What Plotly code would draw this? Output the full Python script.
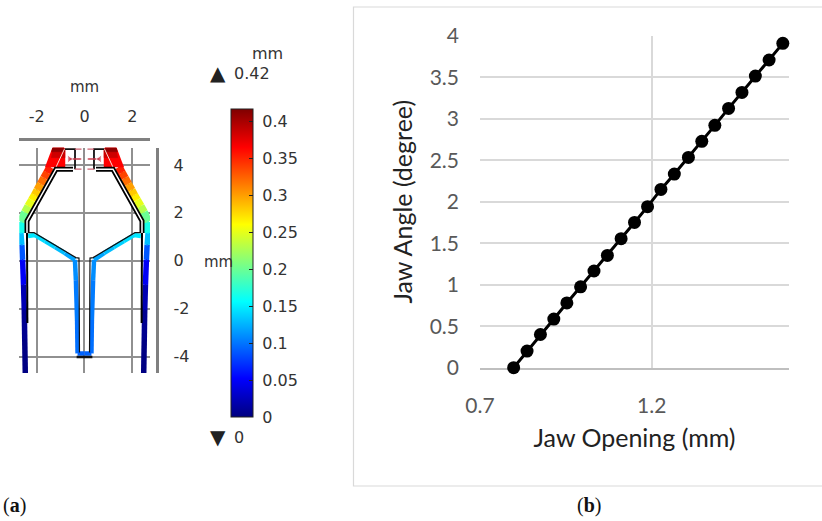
import plotly.graph_objects as go
from plotly.colors import sample_colorscale

# ---- panel (b) data
jaw_opening = [0.798, 0.837, 0.876, 0.915, 0.953, 0.993, 1.032, 1.071, 1.111, 1.150, 1.188,
               1.227, 1.266, 1.307, 1.346, 1.384, 1.424, 1.463, 1.502, 1.542, 1.582]
jaw_angle = [0.0, 0.2, 0.4, 0.586, 0.78, 0.975, 1.165, 1.353, 1.554, 1.75, 1.94,
             2.148, 2.333, 2.534, 2.727, 2.92, 3.124, 3.317, 3.514, 3.707, 3.908]

# ---- panel (a) data (left half, mm; mirrored about x=0), disp = displacement in mm
arm_x = [-2.477, -2.50, -2.52, -2.55, -2.59, -2.62, -2.66, -2.66, -2.49, -2.35, -2.20, -2.08, -1.97, -1.83, -1.69, -1.56, -1.44]
arm_y = [-4.77, -3.31, -2.06, -1.01, 0.03, 0.66, 1.16, 1.62, 2.03, 2.28, 2.53, 2.74, 2.95, 3.20, 3.45, 3.68, 3.91]
arm_disp = [0.0, 0.003, 0.012, 0.03, 0.065, 0.11, 0.15, 0.18, 0.22, 0.24, 0.26, 0.275, 0.29, 0.31, 0.33, 0.345, 0.36]

cross_x = [-2.36, -2.07, -1.65, -1.23, -0.82, -0.40, -0.36, -0.31, -0.29, 0.0]
cross_y = [1.03, 1.07, 0.82, 0.57, 0.32, 0.03, -0.81, -2.48, -3.87, -3.87]
cross_disp = [0.15, 0.145, 0.14, 0.135, 0.125, 0.115, 0.105, 0.10, 0.095, 0.09]

jaw_x = [-1.318, -0.90, -0.816, -0.816, -1.65]
jaw_y = [4.79, 4.79, 4.62, 3.91, 3.91]
jaw_disp = 0.365
jawmid_x = [-1.318, -0.90, -0.816, -0.816, -1.40]
jawmid_y = [4.79, 4.79, 4.62, 4.30, 4.30]
jawmid_disp = 0.385
jawtop_x = [-1.318, -0.90, -0.83, -1.39]
jawtop_y = [4.79, 4.79, 4.55, 4.55]
jawtop_disp = 0.41

slit_x = [-0.84, -1.19]
slit_y = [4.66, 3.91]
tube_x = [-0.481, -1.192, -2.406, -2.406]
tube_y = [3.82, 3.82, 1.66, 1.156]
lower_x = [-2.406, -2.39]
lower_y = [1.156, -2.6]
inner_x = [-2.36, -2.11, -0.36, -0.23, -0.21]
inner_y = [1.17, 1.17, 0.13, 0.11, -3.83]
bar_x = [-0.33, 0.33]
bar_y = [-4.02, -4.02]
block_x = [-0.816, -0.397, -0.397]
block_y = [4.66, 4.66, 3.82]
arrow_x = [-0.125, -0.63]
arrow_y = [4.246, 4.246]
tick1_x = [-0.40, -0.125]
tick1_y = [4.66, 4.66]
tick2_x = [-0.40, -0.125]
tick2_y = [3.82, 3.82]

disp_max = 0.417
color_ticks = [0, 0.05, 0.1, 0.15, 0.2, 0.25, 0.3, 0.35, 0.4]
x2_ticks = [-2, 0, 2]
y2_ticks = [-4, -2, 0, 2, 4]
jet = [[0, "rgb(0,0,127)"], [0.125, "rgb(0,0,255)"], [0.375, "rgb(0,255,255)"],
       [0.625, "rgb(255,255,0)"], [0.875, "rgb(255,0,0)"], [1, "rgb(127,0,0)"]]
W, H = 822, 521
SANS = "DejaVu Sans"
CAL = "Lato"


def col(d):
    return sample_colorscale(jet, [d / disp_max])[0]


fig = go.Figure()


def line(x, y, color, width):
    fig.add_trace(go.Scatter(x=x, y=y, mode="lines", xaxis="x2", yaxis="y2", cliponaxis=False,
                             line=dict(color=color, width=width), hoverinfo="skip", showlegend=False))


for s in (-1, 1):
    # deformed arm and cross member, coloured by displacement
    for i in range(len(arm_x) - 1):
        line([s * arm_x[i], s * arm_x[i + 1]], [arm_y[i], arm_y[i + 1]],
             col((arm_disp[i] + arm_disp[i + 1]) / 2), 8 if arm_y[i] >= 1.1 else 5.5)
    for i in range(len(cross_x) - 1):
        line([s * cross_x[i], s * cross_x[i + 1]], [cross_y[i], cross_y[i + 1]],
             col((cross_disp[i] + cross_disp[i + 1]) / 2), 4.5)
    for fx, fy, fd in ((jaw_x, jaw_y, jaw_disp), (jawmid_x, jawmid_y, jawmid_disp), (jawtop_x, jawtop_y, jawtop_disp)):
        fig.add_trace(go.Scatter(x=[s * v for v in fx], y=fy, mode="lines", fill="toself", fillcolor=col(fd),
                                 xaxis="x2", yaxis="y2", cliponaxis=False, line=dict(color=col(fd), width=0.5),
                                 hoverinfo="skip", showlegend=False))
    line([s * v for v in slit_x], slit_y, "#ffd8d0", 1)
    # undeformed outline
    line([s * v for v in tube_x], tube_y, "black", 5)
    line([s * v for v in tube_x], tube_y, "white", 1.5)
    line([s * v for v in lower_x], lower_y, "black", 2)
    line([s * v for v in inner_x], inner_y, "#111111", 1.2)
    line([s * v for v in block_x], block_y, "#111111", 1.8)
    # force arrows
    fig.add_trace(go.Scatter(x=[s * v for v in arrow_x], y=arrow_y, mode="lines+markers", xaxis="x2", yaxis="y2",
                             line=dict(color="#c8384a", width=1.5),
                             marker=dict(size=[1, 7], color="#c8384a", symbol="triangle-left" if s < 0 else "triangle-right"),
                             hoverinfo="skip", showlegend=False))
    line([s * v for v in tick1_x], tick1_y, "#cc6070", 1.2)
    line([s * v for v in tick2_x], tick2_y, "#cc6070", 1.2)

line(bar_x, bar_y, "#111111", 2.5)

# markers carrying the shared colour axis (and so the colour bar)
fig.add_trace(go.Scatter(x=arm_x + [-v for v in arm_x], y=arm_y + arm_y, mode="markers", xaxis="x2", yaxis="y2",
                         cliponaxis=False, marker=dict(size=2, color=arm_disp + arm_disp, coloraxis="coloraxis"),
                         hoverinfo="skip", showlegend=False))

# panel (b)
fig.add_trace(go.Scatter(x=jaw_opening, y=jaw_angle, mode="lines+markers", cliponaxis=False,
                         line=dict(color="black", width=3), marker=dict(color="black", size=13), showlegend=False))

annotations = []


def text(px, py, s, size=16, color="#333333", family=SANS, xanchor="center"):
    annotations.append(dict(xref="paper", yref="paper", x=px / W, y=1 - py / H, text=s, showarrow=False,
                            font=dict(size=size, color=color, family=family), xanchor=xanchor, yanchor="middle",
                            borderpad=0))


text(84, 87, "mm", 15)
text(267, 53, "mm", 16)
text(218, 262, "mm", 15)
text(218, 73, "▲", 20, "#222222")
text(233, 73, "0.42", 16, xanchor="left")
text(218, 437, "▼", 20, "#222222")
text(233, 437, "0", 16, xanchor="left")
text(2, 505, "(<b>a</b>)", 20, "#111111", "Liberation Serif", "left")
text(589, 505, "(<b>b</b>)", 20, "#111111", "Liberation Serif")

shapes = [dict(type="rect", xref="paper", yref="paper", x0=353.5 / W, x1=830 / W, y0=1 - 486 / H, y1=1 - 7 / H,
               line=dict(color="#d9d9d9", width=1.2), fillcolor="rgba(0,0,0,0)", layer="below")]

fig.update_layout(
    width=W, height=H, autosize=False, margin=dict(l=0, r=0, t=0, b=0),
    paper_bgcolor="white", plot_bgcolor="rgba(0,0,0,0)", showlegend=False,
    annotations=annotations, shapes=shapes,
    coloraxis=dict(
        colorscale=jet, cmin=0, cmax=disp_max,
        colorbar=dict(
            x=231 / W, xanchor="left", xpad=0, ypad=0, y=1 - 417 / H, yanchor="bottom",
            len=308 / H, lenmode="fraction", thickness=22, thicknessmode="pixels",
            tickvals=color_ticks, ticktext=["\u00a0" + str(v) for v in color_ticks],
            ticks="inside", ticklen=4, tickcolor="#222222", outlinewidth=1, outlinecolor="#222222",
            tickfont=dict(size=16, color="#333333", family=SANS),
        ),
    ),
    xaxis=dict(domain=[480 / W, 789 / W], range=[0.7, 1.6], tick0=0.7, dtick=0.5, showgrid=True,
               gridcolor="#d9d9d9", gridwidth=1.5, zeroline=False, showline=True, linecolor="#bfbfbf", linewidth=1.5,
               layer="below traces", ticks="", ticklabelstandoff=18, tickfont=dict(size=21, color="#595959", family=CAL),
               title=dict(text="Jaw Opening (mm)", font=dict(size=25, color="#222222", family=CAL), standoff=14),
               anchor="y", automargin=False),
    yaxis=dict(domain=[1 - 367.7 / H, 1 - 35.7 / H], range=[0, 4], dtick=0.5, showgrid=True,
               gridcolor="#d9d9d9", gridwidth=1.5, zeroline=False, showline=False,
               ticks="", ticklabelstandoff=20, tickfont=dict(size=21, color="#595959", family=CAL),
               title=dict(text="Jaw Angle (degree)", font=dict(size=25, color="#222222", family=CAL), standoff=9),
               anchor="x", automargin=False),
    xaxis2=dict(domain=[19.3 / W, 150 / W], range=[-2.728, 2.741], tickvals=x2_ticks,
                ticktext=[str(v) for v in x2_ticks], side="top",
                anchor="free", position=1 - 139 / H, showgrid=True, gridcolor="#909090", gridwidth=1.5, zeroline=False,
                showline=True, linecolor="#808080", linewidth=2.5, ticks="outside", ticklen=10,
                tickcolor="rgba(0,0,0,0)", tickfont=dict(size=16, color="#333333", family=SANS),
                automargin=False),
    yaxis2=dict(domain=[1 - 373 / H, 1 - 147.7 / H], range=[-4.689, 4.718], tickvals=y2_ticks,
                ticktext=[str(v) for v in y2_ticks], side="right",
                anchor="free", position=156.5 / W, showgrid=True, gridcolor="#909090", gridwidth=1.5, zeroline=False,
                showline=True, linecolor="#808080", linewidth=2.5, ticks="outside", ticklen=12,
                tickcolor="rgba(0,0,0,0)", tickfont=dict(size=16, color="#333333", family=SANS),
                automargin=False),
)

fig.write_html("out.html", post_script="document.body.style.margin='0';", config={"displayModeBar": False})
